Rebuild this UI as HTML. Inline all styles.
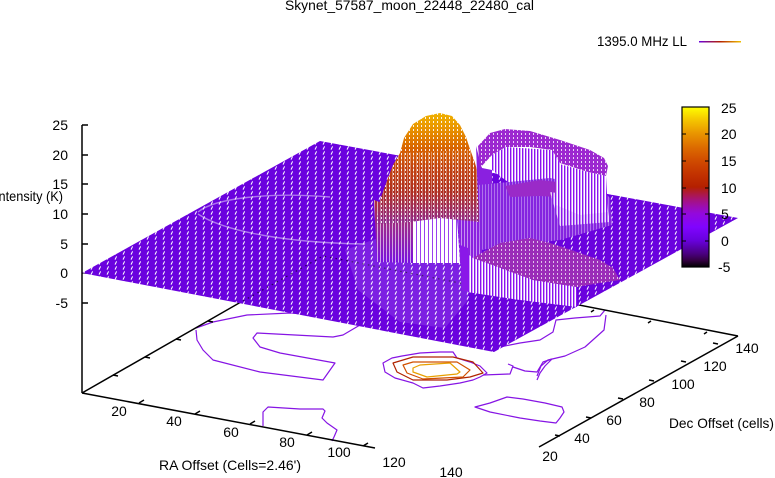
<!DOCTYPE html>
<html>
<head>
<meta charset="utf-8">
<style>
  html,body{margin:0;padding:0;background:#fff;}
  svg{display:block;}
  text{font-family:"Liberation Sans", Arial, sans-serif;font-size:14px;fill:#000;}
</style>
</head>
<body>
<svg width="775" height="478" viewBox="0 0 775 478" xmlns="http://www.w3.org/2000/svg">
  <defs>
    <pattern id="mesh" width="8" height="5" patternUnits="userSpaceOnUse">
      <rect width="8" height="5" fill="#6a02de"/>
      <path d="M3,4.6 L4.6,1.4" stroke="#ffffff" stroke-width="1"/>
    </pattern>
    <pattern id="speck" width="4" height="4" patternUnits="userSpaceOnUse">
      <rect x="1" y="1" width="1" height="2" fill="#ffffff"/>
    </pattern>
    <pattern id="vl" width="3" height="4" patternUnits="userSpaceOnUse">
      <rect width="3" height="4" fill="#ffffff"/>
      <rect width="1.4" height="4" fill="#8a12f0"/>
    </pattern>
    <pattern id="vlsparse" width="4" height="4" patternUnits="userSpaceOnUse">
      <rect width="4" height="4" fill="#ffffff"/>
      <rect width="1" height="4" fill="#9a40f0"/>
    </pattern>
    <pattern id="vw" width="3" height="4" patternUnits="userSpaceOnUse">
      <rect x="2" width="1" height="4" fill="#ffffff"/>
    </pattern>
    <linearGradient id="domeg" gradientUnits="userSpaceOnUse" x1="0" y1="112" x2="0" y2="222">
      <stop offset="0" stop-color="#f0b400"/>
      <stop offset="0.15" stop-color="#e99400"/>
      <stop offset="0.33" stop-color="#d86400"/>
      <stop offset="0.5" stop-color="#c44410"/>
      <stop offset="0.72" stop-color="#b03020"/>
      <stop offset="1" stop-color="#922a88"/>
    </linearGradient>
    <linearGradient id="wallr" gradientUnits="userSpaceOnUse" x1="0" y1="190" x2="0" y2="263">
      <stop offset="0" stop-color="#b83018"/>
      <stop offset="0.5" stop-color="#9a2a90"/>
      <stop offset="1" stop-color="#7a10e0"/>
    </linearGradient>
    <linearGradient id="cb" gradientUnits="userSpaceOnUse" x1="0" y1="107" x2="0" y2="267">
      <stop offset="0" stop-color="#ffff00"/>
      <stop offset="0.0833" stop-color="#f4c400"/>
      <stop offset="0.1667" stop-color="#e99400"/>
      <stop offset="0.25" stop-color="#dd6c00"/>
      <stop offset="0.3333" stop-color="#d04c00"/>
      <stop offset="0.4167" stop-color="#c33300"/>
      <stop offset="0.5" stop-color="#b42000"/>
      <stop offset="0.5417" stop-color="#ad1942"/>
      <stop offset="0.5833" stop-color="#a51280"/>
      <stop offset="0.625" stop-color="#9c0db4"/>
      <stop offset="0.6667" stop-color="#9309dd"/>
      <stop offset="0.75" stop-color="#8004ff"/>
      <stop offset="0.8333" stop-color="#6801dd"/>
      <stop offset="0.9167" stop-color="#4a0080"/>
      <stop offset="0.9583" stop-color="#340042"/>
      <stop offset="1" stop-color="#000000"/>
    </linearGradient>
    <linearGradient id="leg" x1="0" y1="0" x2="1" y2="0">
      <stop offset="0" stop-color="#6a02de"/>
      <stop offset="0.5" stop-color="#b42000"/>
      <stop offset="1" stop-color="#f0c000"/>
    </linearGradient>
  </defs>

  <rect width="775" height="478" fill="#ffffff"/>

  <!-- base contours -->
  <g fill="none" stroke-width="1.2" stroke-linejoin="round">
    <g stroke="#8614e4">
      <path d="M196,328 L213,322 L247,315 L290,313 L336,316"/>
      <path d="M196,330 L197,340 L203,350 L213,360 L260,372 L323,380 L335,363 L280,353 L260,347 L253,338 L257,333 L333,337 L343,335 L360,325 L372,322"/>
      <path d="M263,426 L263,412 L268,407 L300,409 L323,409 L325,411 L322,418 L327,423 L337,430 L334,437 L332,441"/>
      <path d="M383,363 L392,358 L402,356 L420,353 L440,352 L453,352 L457,358 L470,362 L480,366 L487,373 L480,377 L473,380 L460,383 L440,386 L423,388 L413,383 L395,378 L385,372 Z"/>
      <path d="M483,375 L510,374 L513,366 L508,364 M513,367 L525,371 L537,372 L543,362 L552,359 L545,366 L540,373 L537,380"/>
      <path d="M495,348 L520,343 L540,340 L553,332 L556,320 L575,318 L600,316 L605,310"/>
      <path d="M606,315 L604,330 L585,347 L565,356 L548,360 L541,366 L537,376"/>
      <path d="M475,407 L490,403 L507,397 L523,399 L545,403 L562,407 L564,412 L560,418 L556,423 L540,421 L520,418 L490,412 Z"/>
    </g>
    <path stroke="#b02400" d="M393,363 L413,357 L453,357 L473,362 L483,373 L470,377 L447,380 L413,380 L397,372 Z"/>
    <path stroke="#d05000" d="M403,365 L413,362 L457,362 L470,370 L463,377 L423,379 L407,373 Z"/>
    <path stroke="#e8a000" d="M413,368 L420,365 L450,363 L460,372 L457,374 L427,377 L413,372 Z"/>
  </g>

  <!-- axes -->
  <g stroke="#000" stroke-width="1.5" fill="none">
    <path d="M82,125 V393"/>
    <path d="M82,393 L375,448"/>
    <path d="M539,447 L738,336"/>
    <path d="M82,393 L323,255 L738,336"/>
    <path d="M82,125 h6 M82,155 h6 M82,184 h6 M82,214 h6 M82,244 h6 M82,273 h6 M82,303 h6"/>
    <path d="M139,403 l5,-3 M195,414 l5,-3 M250,424 l5,-3 M307,435 l5,-3 M363,446 l5,-3"/>
    <path d="M113,375 l5,1 M145,357 l5,1 M176,339 l5,1 M208,321 l5,1"/>
    <path d="M560,436 l-5,-1 M591,418 l-5,-1 M623,399 l-5,-1 M654,381 l-5,-1 M686,362 l-5,-1 M718,344 l-5,-1"/>
    <path d="M594,310 l-3,2 M651,321 l-3,2 M707,332 l-3,2"/>
  </g>

  <!-- surface: main plane -->
  <polygon points="82,273 320,141 738,218 494,352" fill="url(#mesh)"/>
  <path d="M243,301 L323,256 L470,285" stroke="#000" stroke-width="1.2" stroke-dasharray="1.5 4" fill="none" opacity="0.6"/>
  <polygon points="345,250 395,232 445,238 468,262 468,300 445,328 400,322 358,290" fill="#ffffff" opacity="0.12"/>
  <path d="M198,212 C215,198 270,192 330,197 M198,214 C225,232 290,243 365,244" stroke="#ffffff" stroke-width="1.4" fill="none" opacity="0.45"/>

  <!-- walls below dome -->
  <polygon points="374,200 413,215 413,263 377,262" fill="url(#wallr)"/>
  <polygon points="374,200 413,215 413,263 377,262" fill="url(#vw)" opacity="0.6"/>
  <polygon points="413,217 457,217 460,263 413,263" fill="url(#vlsparse)"/>
  <polygon points="457,180 482,185 482,262 460,263" fill="#8a20e0"/>
  <polygon points="457,180 482,185 482,262 460,263" fill="url(#vw)" opacity="0.5"/>

  <!-- dome -->
  <polygon points="376,224 380,200 388,178 393,165 400,153 404,138 413,124 426,116 440,113 452,116 460,125 466,137 470,149 475,163 479,177 484,190 491,203 498,217 480,222 440,218 410,222" fill="url(#domeg)"/>
  <polygon points="376,224 380,200 388,178 393,165 400,153 404,138 413,124 426,116 440,113 452,116 460,125 466,137 470,149 475,163 479,177 484,190 491,203 498,217 480,222 440,218 410,222" fill="url(#speck)" opacity="0.9"/>
  <polygon points="376,224 380,200 388,178 393,165 400,153 470,150 475,163 479,177 484,190 491,203 498,217 480,222 440,218 410,222" fill="url(#vw)" opacity="0.35"/>

  <!-- upper right block -->
  <polygon points="476,146 482,168 492,170 492,200 478,200" fill="#8a20e0"/>
  <polygon points="478,146 490,133 505,129 530,131 560,140 590,150 604,158 608,166 606,176 588,172 560,163 552,150 530,147 506,147 492,155 480,168" fill="#9c28d0"/>
  <polygon points="478,146 490,133 505,129 530,131 560,140 590,150 604,158 608,166 606,176 588,172 560,163 552,150 530,147 506,147 492,155 480,168" fill="url(#speck)" opacity="0.8"/>
  <polygon points="506,147 552,150 560,163 556,185 508,182 492,170 492,155" fill="url(#vl)"/>

  <!-- middle plateau -->
  <polygon points="478,185 550,178 600,188 610,198 612,225 560,240 480,250" fill="#8424e0"/>
  <polygon points="478,185 550,178 600,188 610,198 612,225 560,240 480,250" fill="url(#vw)" opacity="0.35"/>
  <polygon points="505,186 540,180 575,184 600,192 606,200 570,198 540,196 510,197" fill="#9a2ac8"/>
  <polygon points="556,163 588,172 606,176 608,212 580,215 556,205" fill="url(#vl)"/>
  <polygon points="550,192 606,200 610,222 560,226" fill="url(#vl)" opacity="0.8"/>

  <!-- lower block -->
  <polygon points="463,250 473,258 487,263 533,280 577,287 577,307 520,300 467,292" fill="url(#vl)"/>
  <polygon points="460,245 468,248 468,292 462,290" fill="#8a18e8"/>
  <polygon points="473,258 487,250 500,243 530,238 550,243 577,252 600,260 613,268 620,280 600,283 577,287 533,280 487,263" fill="#9a2cb8"/>
  <polygon points="473,258 487,250 500,243 530,238 550,243 577,252 600,260 613,268 620,280 600,283 577,287 533,280 487,263" fill="url(#speck)" opacity="0.7"/>

  <!-- colorbar -->
  <rect x="682" y="107" width="27" height="160" fill="url(#cb)" stroke="#000" stroke-width="1.2"/>
  <g stroke="#000" stroke-width="1">
    <path d="M682,134 h4 M682,161 h4 M682,188 h4 M682,214 h4 M682,241 h4"/>
    <path d="M709,134 h-4 M709,161 h-4 M709,188 h-4 M709,214 h-4 M709,241 h-4"/>
  </g>
  <text x="721" y="113">25</text>
  <text x="721" y="139">20</text>
  <text x="721" y="166">15</text>
  <text x="721" y="193">10</text>
  <text x="721" y="219">5</text>
  <text x="721" y="246">0</text>
  <text x="718" y="272">-5</text>

  <!-- z labels -->
  <g text-anchor="end">
    <text x="68" y="130">25</text>
    <text x="68" y="160">20</text>
    <text x="68" y="189">15</text>
    <text x="68" y="219">10</text>
    <text x="68" y="249">5</text>
    <text x="68" y="278">0</text>
    <text x="68" y="308">-5</text>
  </g>
  <text x="-5" y="201" textLength="68" lengthAdjust="spacingAndGlyphs">Intensity (K)</text>

  <g text-anchor="middle">
    <text x="119" y="416">20</text>
    <text x="174" y="426">40</text>
    <text x="231" y="437">60</text>
    <text x="287" y="447">80</text>
    <text x="339" y="457">100</text>
    <text x="394" y="467">120</text>
    <text x="451" y="477">140</text>
    <text x="550" y="461">20</text>
    <text x="582" y="443">40</text>
    <text x="614" y="425">60</text>
    <text x="647" y="407">80</text>
    <text x="683" y="389">100</text>
    <text x="715" y="371">120</text>
    <text x="747" y="353">140</text>
  </g>
  <text x="159" y="470" textLength="142" lengthAdjust="spacingAndGlyphs">RA Offset (Cells=2.46')</text>
  <text x="669" y="428" textLength="105" lengthAdjust="spacingAndGlyphs">Dec Offset (cells)</text>

  <text x="285" y="10" textLength="249" lengthAdjust="spacingAndGlyphs">Skynet_57587_moon_22448_22480_cal</text>
  <text x="597" y="46" textLength="90" lengthAdjust="spacingAndGlyphs">1395.0 MHz LL</text>
  <rect x="699" y="41" width="42" height="1.5" fill="url(#leg)"/>
</svg>
</body>
</html>
